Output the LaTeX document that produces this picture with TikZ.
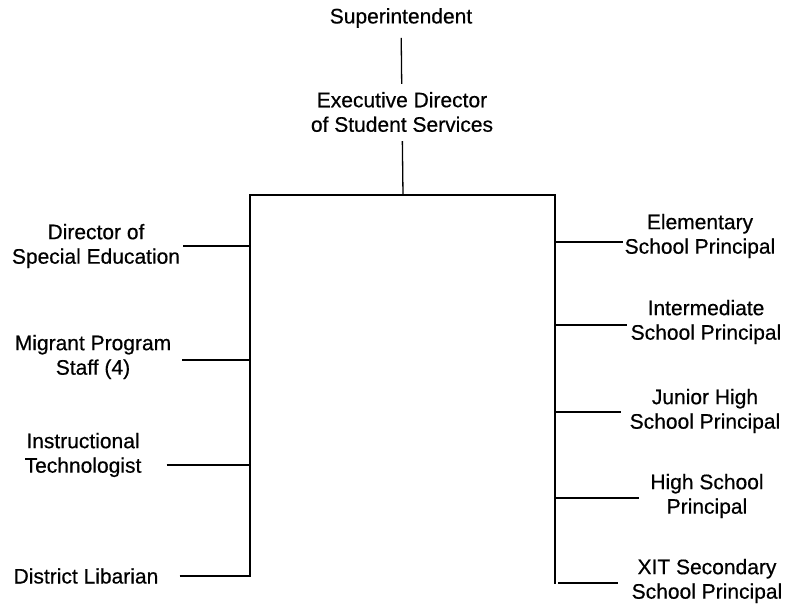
\documentclass[tikz,border=0pt]{standalone}
\usepackage{fontspec}
\setmainfont{Liberation Sans}[FakeBold=0.5]
\usetikzlibrary{positioning}

\begin{document}
\begin{tikzpicture}[x=1pt,y=-1pt,
  every node/.style={font=\fontsize{21}{24.5}\selectfont, align=center, inner sep=0pt},
  line/.style={line width=1.3pt}]
\useasboundingbox (0,0) rectangle (785,607);

% Top of the chart
\node (sup) at (401,18) {Superintendent};
\node (exec) at (402,112) {Executive Director\\of Student Services};
\draw[line, shorten <=10pt, shorten >=8pt] (sup) -- (exec);

% Bus
\coordinate (top) at (403,195);
\coordinate (lt) at (250,195);
\coordinate (rt) at (555,195);
\coordinate (lb) at (250,577);
\coordinate (rb) at (555,584);
\draw[line, shorten <=9pt] (exec) -- (top);
\draw[line] (lb) -- (lt) -- (rt) -- (rb);

% Left side
\node (dse) at (96,246) {Director of\\Special Education};
\node (mig) at (93,357) {Migrant Program\\Staff (4)};
\node (tech) at (83,455) {Instructional\\Technologist};
\node (lib) at (86,576) {District Libarian};
\draw[line] ([xshift=3pt]dse.east) -- (dse -| lt);
\draw[line] ([xshift=11pt,yshift=-3pt]mig.east) -- ([yshift=-3pt]mig -| lt);
\draw[line] ([xshift=25pt,yshift=-10pt]tech.east) -- ([yshift=-10pt]tech -| lt);
\draw[line] ([xshift=21pt]lib.east) -- (lib -| lt);

% Right side
\node (elem) at (700,236) {Elementary\\School Principal};
\node (inter) at (706,322) {Intermediate\\School Principal};
\node (jhs) at (705,411) {Junior High\\School Principal};
\node (hs) at (707,496) {High School\\Principal};
\node (xit) at (707,581) {XIT Secondary\\School Principal};
\draw[line] ([yshift=-6pt]elem -| rt) -- ([xshift=-2pt,yshift=-6pt]elem.west);
\draw[line] ([yshift=-3pt]inter -| rt) -- ([xshift=-4pt,yshift=-3pt]inter.west);
\draw[line] ([yshift=-1pt]jhs -| rt) -- ([xshift=-9pt,yshift=-1pt]jhs.west);
\draw[line] ([yshift=-2pt]hs -| rt) -- ([xshift=-11pt,yshift=-2pt]hs.west);
\draw[line] ([xshift=3pt,yshift=-2pt]xit -| rt) -- ([xshift=-14pt,yshift=-2pt]xit.west);
\end{tikzpicture}
\end{document}
